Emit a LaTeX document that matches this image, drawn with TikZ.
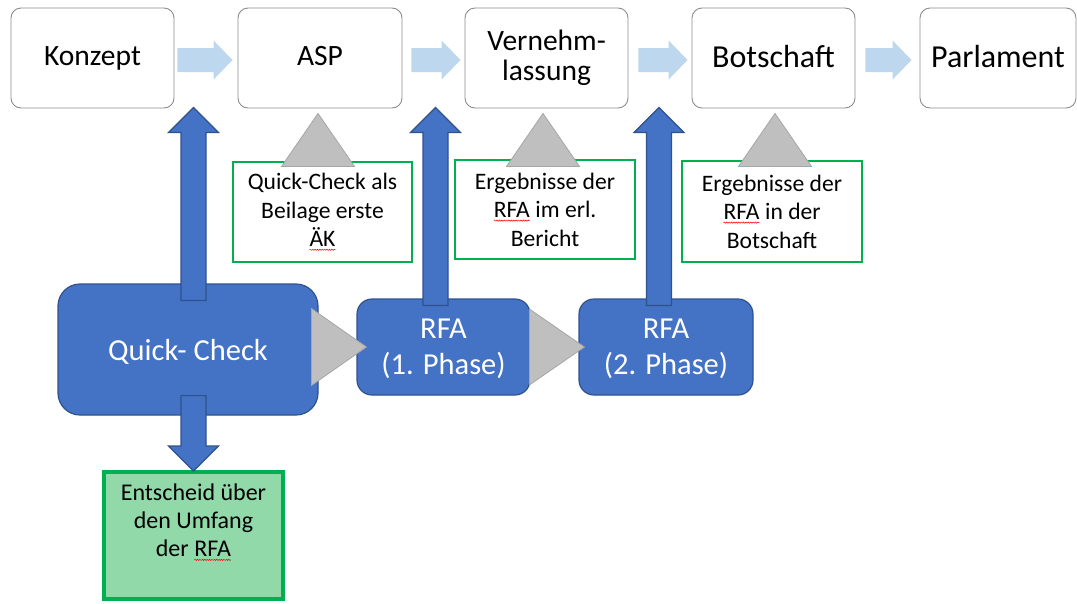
\documentclass[tikz,border=0pt]{standalone}
\usepackage{fontspec}
\setmainfont{Carlito}
\usetikzlibrary{calc,decorations.pathmorphing}
\definecolor{qblue}{HTML}{4472C4}
\definecolor{qdblue}{HTML}{2F528F}
\definecolor{lblue}{HTML}{BDD7EE}
\definecolor{tgray}{HTML}{BFBFBF}
\definecolor{tgrayd}{HTML}{A6A6A6}
\definecolor{ggreen}{HTML}{00B050}
\definecolor{lgreen}{HTML}{92D9AA}
\definecolor{boxgray}{HTML}{8C8C8C}
\newcommand\sq[1]{\tikz[baseline=(w.base)]{\node[inner sep=0pt,outer sep=0pt,draw=none,fill=none,minimum width=0pt,minimum height=0pt,rounded corners=0pt](w){#1};\draw[red,line width=0.5pt,sharp corners,decorate,decoration={snake,amplitude=0.6pt,segment length=2.4pt}]([yshift=-3pt]w.base west)--([yshift=-3pt]w.base east);}}
\newcommand\hblock[2]{\fill[lblue] let \p1=#1, \p2=#2 in
  (\x1,\y1+12pt) -- (\x2-19pt,\y1+12pt) -- (\x2-19pt,\y1+19.5pt) -- (\x2,\y1)
  -- (\x2-19pt,\y1-19.5pt) -- (\x2-19pt,\y1-12pt) -- (\x1,\y1-12pt) -- cycle;}
\newcommand\vblock[2]{\path[bluearrow] let \p1=#1, \p2=#2, \n1={(\y2>\y1)?1:-1} in
  (\x1-12.5pt,\y1) -- (\x1-12.5pt,\y2-\n1*25pt) -- (\x1-25pt,\y2-\n1*25pt) -- (\x1,\y2)
  -- (\x1+25pt,\y2-\n1*25pt) -- (\x1+12.5pt,\y2-\n1*25pt) -- (\x1+12.5pt,\y1) -- cycle;}
\begin{document}
\begin{tikzpicture}[x=1pt,y=-1pt,
  topbox/.style={draw=boxgray,line width=0.9pt,fill=white,rounded corners=10pt,minimum height=100pt,align=center,inner sep=0pt,font=\fontsize{29.5}{30}\selectfont},
  sline/.style={text depth=4pt},
  bigtxt/.style={font=\fontsize{32}{34}\selectfont},
  bluebox/.style={draw=qdblue,line width=1.2pt,fill=qblue,text=white,align=center,inner sep=0pt,text depth=0pt,font=\fontsize{30.5}{36}\selectfont},
  notebox/.style={draw=ggreen,line width=1.5pt,fill=white,align=center,inner sep=0pt,font=\fontsize{23.6}{28.5}\selectfont},
  bluearrow/.style={draw=qdblue,line width=1.2pt,fill=qblue,line join=miter},
  graytri/.style={draw=tgrayd,line width=0.8pt,fill=tgray}]
\useasboundingbox (0,0) rectangle (1077,603);
% top row
\node[topbox,sline,minimum width=163pt] (konzept) at (92.5,58) {Konzept};
\node[topbox,sline,minimum width=164pt] (asp) at (320,58) {ASP};
\node[topbox,minimum width=163pt] (vern) at (546.5,58) {Vernehm-\\lassung};
\node[topbox,sline,bigtxt,minimum width=163pt] (botschaft) at (773.5,58) {Botschaft};
\node[topbox,sline,bigtxt,minimum width=156pt] (parlament) at (998,58) {Parlament};
\hblock{($(konzept.east)+(3,2)$)}{($(asp.west)+(-5,2)$)}
\hblock{($(asp.east)+(9,2)$)}{($(vern.west)+(-4,2)$)}
\hblock{($(vern.east)+(10,2)$)}{($(botschaft.west)+(-4,2)$)}
\hblock{($(botschaft.east)+(10,2)$)}{($(parlament.west)+(-8,2)$)}
% note boxes
\node[notebox,minimum width=179pt,minimum height=100pt] (noteA) at (322.5,212) {Quick-Check als\\Beilage erste\\\sq{ÄK}};
\node[notebox,minimum width=180pt,minimum height=99pt] (noteB) at (545,209.5) {Ergebnisse der\\\sq{RFA} im erl.\\Bericht};
\node[notebox,minimum width=180pt,minimum height=101pt] (noteC) at (772,211.5) {Ergebnisse der\\\sq{RFA} in der\\Botschaft};
\path[graytri] ($(asp.south)+(-2,5)$) -- ($(asp.south)+(34.5,58)$) -- ($(asp.south)+(-38.5,58)$) -- cycle;
\path[graytri] ($(vern.south)+(-3.5,5)$) -- ($(vern.south)+(33,58)$) -- ($(vern.south)+(-40,58)$) -- cycle;
\path[graytri] ($(botschaft.south)+(1.5,5)$) -- ($(botschaft.south)+(38,58)$) -- ($(botschaft.south)+(-35,58)$) -- cycle;
% blue boxes
\node[bluebox,rounded corners=22pt,minimum width=260pt,minimum height=131pt] (qc) at (188,349.5) {Quick- Check};
\node[bluebox,rounded corners=15pt,minimum width=173pt,minimum height=96pt] (rfa1) at (443.5,347) {RFA\\(1. Phase)};
\node[bluebox,rounded corners=15pt,minimum width=174pt,minimum height=96pt] (rfa2) at (666,347) {RFA\\(2. Phase)};
% decision box
\node[draw=ggreen,line width=4pt,fill=lgreen,minimum width=179pt,minimum height=127pt,inner sep=0pt] (entscheid) at (193.5,535.5) {};
\node[align=center,inner sep=0pt,font=\fontsize{24}{28}\selectfont] (entscheidtxt) at ($(entscheid.center)+(0,-13)$) {Entscheid über\\den Umfang\\der \sq{RFA}};
% blue block arrows
\vblock{($(qc.north)+(5.5,17)$)}{($(konzept.south)+(0,-1)$)}
\vblock{($(rfa1.north)+(-8,7)$)}{($(asp.south)+(0,-1)$)}
\vblock{($(rfa2.north)+(-7,7)$)}{($(vern.south)+(0,-1)$)}
\vblock{($(qc.south)+(5.5,-20)$)}{($(entscheid.north)+(0,1)$)}
% gray right triangles
\path[graytri] ($(rfa1.west)+(10,0)$) -- ($(rfa1.west)+(-45,-38.5)$) -- ($(rfa1.west)+(-45,38.5)$) -- cycle;
\path[graytri] ($(rfa2.west)+(6,0)$) -- ($(rfa2.west)+(-49,-38)$) -- ($(rfa2.west)+(-49,38)$) -- cycle;
\end{tikzpicture}
\end{document}
